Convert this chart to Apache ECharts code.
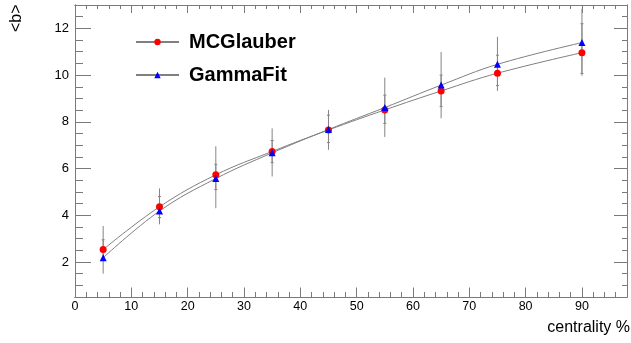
<!DOCTYPE html>
<html>
<head>
<meta charset="utf-8">
<script src="https://cdn.jsdelivr.net/npm/echarts@6/dist/echarts.min.js"></script>
<style>
  html, body { margin: 0; padding: 0; background: #fff; }
  #chart { width: 631px; height: 343px; }
</style>
</head>
<body>
<div id="chart"></div>
<script>
// Mean impact parameter <b> per centrality class
const centrality = [5, 15, 25, 35, 45, 55, 65, 75, 90];
const mcGlauber = [2.53, 4.36, 5.73, 6.73, 7.65, 8.51, 9.32, 10.08, 10.96];
const gammaFit = [2.18, 4.18, 5.57, 6.67, 7.67, 8.61, 9.57, 10.46, 11.39];

// Error band limits (wide bars without caps, narrow bars with caps)
const outerLow = [1.50, 3.61, 4.30, 5.66, 6.80, 7.35, 8.15, 9.32, 9.97];
const outerHigh = [3.54, 5.15, 6.95, 7.72, 8.51, 9.89, 10.99, 11.64, 12.84];
const innerLow = [2.10, 3.90, 5.10, 6.25, 7.11, 7.93, 8.65, 9.55, 10.07];
const innerHigh = [2.95, 4.80, 6.18, 7.20, 8.28, 9.14, 10.00, 10.85, 12.20];

const xMajor = [0, 10, 20, 30, 40, 50, 60, 70, 80, 90];
const yMajor = [2, 4, 6, 8, 10, 12];

const X_MIN = 0, X_MAX = 98, Y_MIN = 0.5, Y_MAX = 13;
const FRAME = '#7a7a7a';
const FONT = '"Liberation Sans", Arial, Helvetica, sans-serif';

const chart = echarts.init(document.getElementById('chart'), null, { renderer: 'canvas' });

function xAx(position, custom, tickLen, showLabel) {
  const ax = {
    type: 'value', position: position, min: X_MIN, max: X_MAX,
    axisLine: { show: true, onZero: false, lineStyle: { color: FRAME, width: 1 } },
    axisTick: { show: true, inside: true, length: tickLen, lineStyle: { color: FRAME, width: 1 } },
    axisLabel: { show: false },
    splitLine: { show: false }
  };
  if (custom) {
    ax.axisTick.customValues = xMajor;
    if (showLabel) {
      ax.axisLabel = { show: true, customValues: xMajor, color: '#000', fontSize: 12.5,
        fontFamily: FONT, margin: 3 };
    }
  } else {
    ax.interval = 2;
  }
  return ax;
}

function yAx(position, custom, tickLen, showLabel) {
  const ax = {
    type: 'value', position: position, min: Y_MIN, max: Y_MAX,
    axisLine: { show: true, onZero: false, lineStyle: { color: FRAME, width: 1 } },
    axisTick: { show: true, inside: true, length: tickLen, lineStyle: { color: FRAME, width: 1 } },
    axisLabel: { show: false },
    splitLine: { show: false }
  };
  if (custom) {
    ax.axisTick.customValues = yMajor;
    if (showLabel) {
      ax.axisLabel = { show: true, customValues: yMajor, color: '#000', fontSize: 13,
        fontFamily: FONT, margin: 6 };
    }
  } else {
    ax.interval = 0.5;
  }
  return ax;
}

function errorBars(low, high, cap) {
  return {
    type: 'custom',
    silent: true,
    z: 1,
    data: centrality.map((c, i) => [c, low[i], high[i]]),
    encode: { x: 0, y: [1, 2] },
    renderItem: function (params, api) {
      const top = api.coord([api.value(0), api.value(2)]);
      const bot = api.coord([api.value(0), api.value(1)]);
      const style = { stroke: '#858585', lineWidth: 1 };
      const children = [{
        type: 'line', shape: { x1: top[0], y1: top[1], x2: bot[0], y2: bot[1] }, style: style
      }];
      if (cap) {
        [top, bot].forEach(p => children.push({
          type: 'line', shape: { x1: p[0] - 1.5, y1: p[1], x2: p[0] + 1.5, y2: p[1] }, style: style
        }));
      }
      return { type: 'group', children: children };
    }
  };
}

const option = {
  animation: false,
  backgroundColor: '#fff',
  grid: { left: 75, right: 4, top: 5, bottom: 46, containLabel: false },
  xAxis: [
    xAx('bottom', true, 9.5, true),
    xAx('bottom', false, 5, false),
    xAx('top', true, 8, false),
    xAx('top', false, 4, false)
  ],
  yAxis: [
    yAx('left', true, 16, true),
    yAx('left', false, 8, false),
    yAx('right', true, 13, false),
    yAx('right', false, 5, false)
  ],
  legend: {
    data: ['MCGlauber', 'GammaFit'],
    orient: 'vertical',
    left: 130,
    top: 27,
    itemWidth: 43,
    itemHeight: 8,
    itemGap: 13,
    textStyle: { fontSize: 20, fontWeight: 'bold', color: '#000', fontFamily: FONT,
      padding: [0, 0, 0, 5] }
  },
  graphic: [
    {
      type: 'text', left: 'auto', right: 1, top: 320,
      style: { text: 'centrality %', fontSize: 16, fontFamily: FONT, fill: '#000' }
    },
    {
      type: 'text', x: 9, y: 32, rotation: Math.PI / 2,
      style: { text: '<b>', fontSize: 16, fontFamily: FONT, fill: '#000' }
    }
  ],
  series: [
    errorBars(outerLow, outerHigh, false),
    errorBars(innerLow, innerHigh, true),
    {
      name: 'MCGlauber', type: 'line', z: 3,
      data: centrality.map((c, i) => [c, mcGlauber[i]]),
      smooth: 0.4,
      symbol: 'circle', symbolSize: 7,
      itemStyle: { color: '#ff0000' },
      lineStyle: { color: '#808080', width: 1 }
    },
    {
      name: 'GammaFit', type: 'line', z: 3,
      data: centrality.map((c, i) => [c, gammaFit[i]]),
      smooth: 0.4,
      symbol: 'triangle', symbolSize: 7,
      itemStyle: { color: '#0000ff' },
      lineStyle: { color: '#808080', width: 1 }
    }
  ]
};

chart.setOption(option);
</script>
</body>
</html>
